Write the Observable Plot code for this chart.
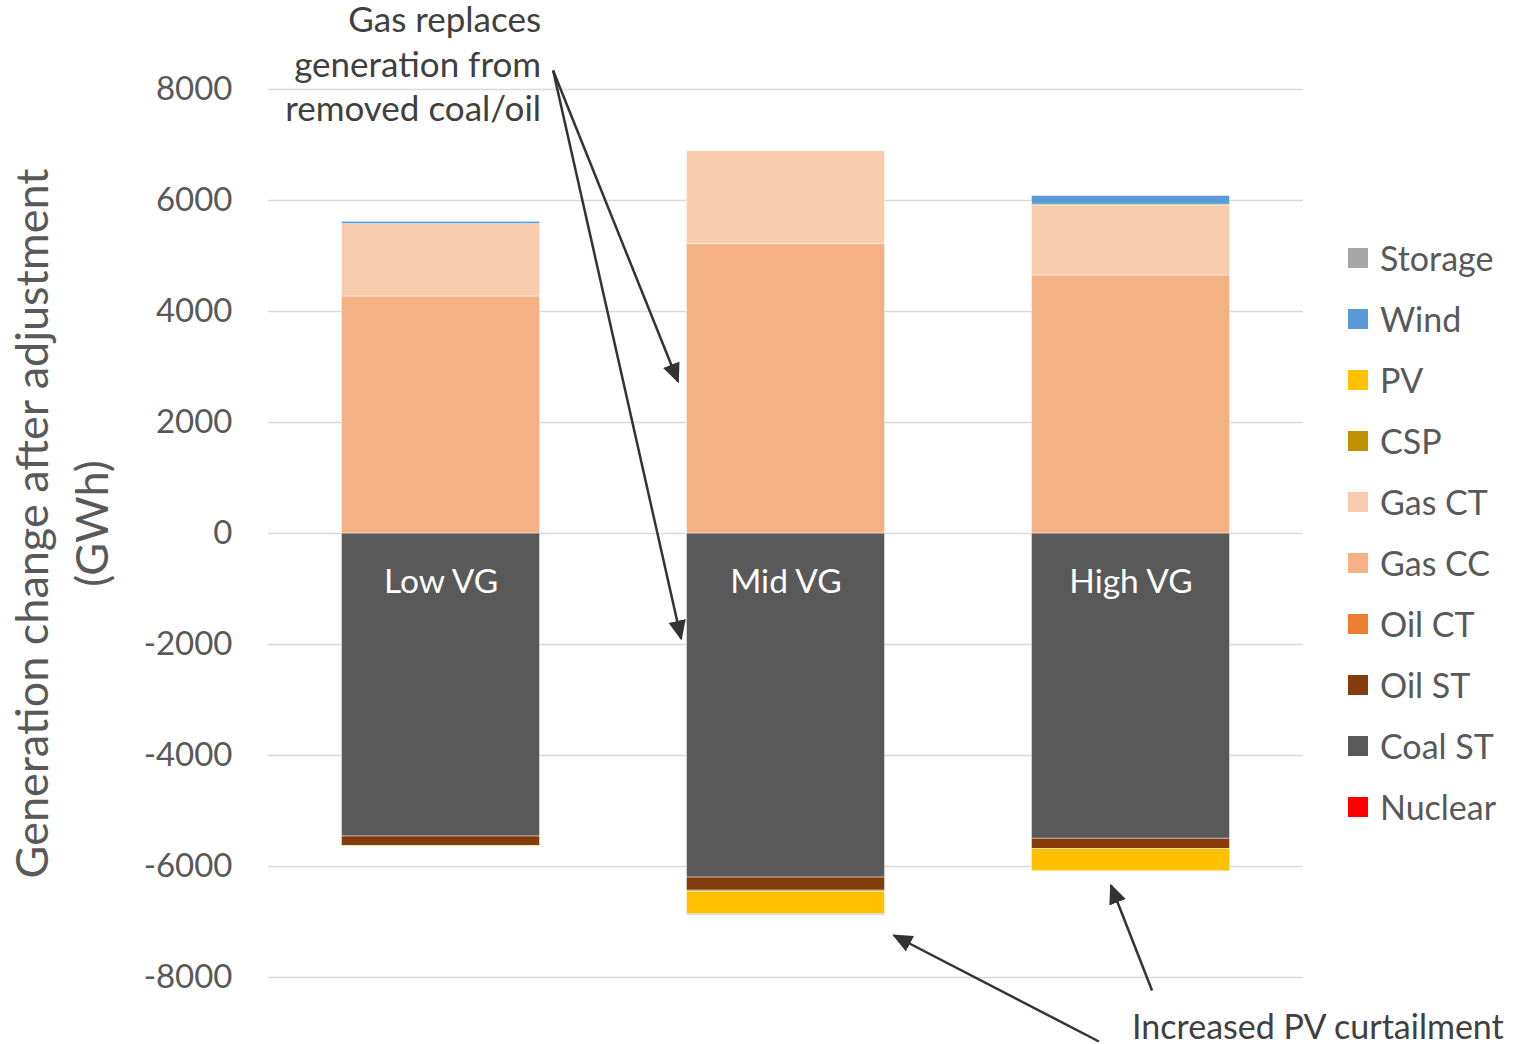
<!DOCTYPE html>
<html>
<head>
<meta charset="utf-8">
<script src="https://cdn.jsdelivr.net/npm/d3@7"></script>
<script src="https://cdn.jsdelivr.net/npm/@observablehq/plot@0.6"></script>
<style>
  body { margin: 0; background: #fff; }
  #wrap { position: relative; width: 1515px; height: 1044px; font-family: Lato, "Open Sans", sans-serif; }
  #legend { position: absolute; left: 1348px; top: 227px; }
  #legend .item { display: flex; align-items: center; height: 61px; font-size: 34px; color: #595959; }
  #legend .sw { width: 20px; height: 20px; margin-right: 12px; }
</style>
</head>
<body>
<div id="wrap"><div id="legend"></div></div>
<script>
// Scenarios and technologies (stacking order, nearest zero first)
const scenarios = ["Low VG", "Mid VG", "High VG"];
const techs = ["Nuclear", "Coal ST", "Oil ST", "Oil CT", "Gas CC", "Gas CT", "CSP", "PV", "Wind", "Storage"];
const techColors = ["#FF0000", "#595959", "#843C0C", "#ED7D31", "#F4B183", "#F8CBAD", "#BF9000", "#FFC000", "#5B9BD5", "#A5A5A5"];

// Generation change after adjustment (GWh), one value per scenario
const nuclear = [0, 0, 0];
const coalST  = [-5460, -6200, -5500];
const oilST   = [-170, -235, -185];
const oilCT   = [0, 0, 0];
const gasCC   = [4270, 5220, 4650];
const gasCT   = [1305, 1665, 1255];
const csp     = [0, -25, 20];
const pv      = [-10, -400, -400];
const wind    = [40, -15, 155];
const storage = [0, 0, 0];

const yTicks = [-8000, -6000, -4000, -2000, 0, 2000, 4000, 6000, 8000];

// Annotation text and arrows (scenario index on x, GWh on y)
const gasNote = {text: "Gas replaces\ngeneration from\nremoved coal/oil", x: 0.29, y: 8486};
const pvNote = {text: "Increased PV curtailment", x: 2.003, y: -8910};
const gasArrows = [
  {x1: 0.325, y1: 8342, x2: 0.687, y2: 2739},
  {x1: 0.325, y1: 8342, x2: 0.696, y2: -1892}
];
const pvArrows = [
  {x1: 1.907, y1: -9153, x2: 1.313, y2: -7243},
  {x1: 2.061, y1: -8234, x2: 1.942, y2: -6342}
];

const series = [nuclear, coalST, oilST, oilCT, gasCC, gasCT, csp, pv, wind, storage];
const rows = [];
techs.forEach((t, k) => scenarios.forEach((s, i) => rows.push({scenario: s, idx: i, tech: t, value: series[k][i]})));

const halfBar = 0.287;

// Filled triangular arrowhead
function arrowHead(color) {
  const m = d3.create("svg:marker")
    .attr("viewBox", "0 -5 10 10")
    .attr("refX", 9)
    .attr("refY", 0)
    .attr("markerWidth", 8)
    .attr("markerHeight", 8)
    .attr("orient", "auto");
  m.append("path").attr("d", "M0,-4.4L10,0L0,4.4Z").attr("fill", color).attr("stroke", "none");
  return m.node();
}

const font = "Lato, 'Open Sans', sans-serif";

const chart = Plot.plot({
  width: 1515,
  height: 1044,
  marginLeft: 268,
  marginRight: 212,
  marginTop: 89,
  marginBottom: 67,
  style: {fontFamily: font, background: "transparent", overflow: "visible"},
  x: {domain: [-0.5, 2.5], axis: null},
  y: {domain: [-8000, 8000], axis: null},
  color: {domain: techs, range: techColors},
  marks: [
    Plot.gridY(yTicks, {stroke: "#d9d9d9", strokeOpacity: 1, strokeWidth: 1.5}),
    Plot.axisY(yTicks, {tickSize: 0, tickPadding: 36, fontSize: 33, fill: "#595959", tickFormat: d => `${d}`}),
    Plot.rectY(rows, Plot.stackY({
      x1: d => d.idx - halfBar,
      x2: d => d.idx + halfBar,
      y: "value",
      z: "tech",
      order: techs,
      fill: "tech",
      stroke: "white",
      strokeWidth: 0.8,
      strokeOpacity: 0.55
    })),
    Plot.text(scenarios, {x: (d, i) => i, y: 0, dy: 49, text: d => d, fill: "white", fontSize: 33.5}),
    Plot.text(["Generation change after adjustment\n(GWh)"], {
      frameAnchor: "left", textAnchor: "middle", lineAnchor: "middle", rotate: -90, dx: -210, dy: -10,
      fontSize: 45, lineHeight: 1.333, fill: "#595959"
    }),
    Plot.text([gasNote], {x: "x", y: "y", text: "text", textAnchor: "end", lineAnchor: "middle", lineHeight: 1.27, fontSize: 35, fill: "#404040"}),
    Plot.text([pvNote], {x: "x", y: "y", text: "text", textAnchor: "start", fontSize: 34, fill: "#404040"}),
    Plot.link(gasArrows.concat(pvArrows), {x1: "x1", y1: "y1", x2: "x2", y2: "y2", stroke: "#333333", strokeWidth: 2.5, markerEnd: arrowHead})
  ]
});

document.getElementById("wrap").prepend(chart);

// Legend, top to bottom in reverse stacking order
const legend = d3.select("#legend");
techs.slice().reverse().forEach(t => {
  const item = legend.append("div").attr("class", "item");
  item.append("div").attr("class", "sw").style("background", techColors[techs.indexOf(t)]);
  item.append("span").text(t);
});
</script>
</body>
</html>
